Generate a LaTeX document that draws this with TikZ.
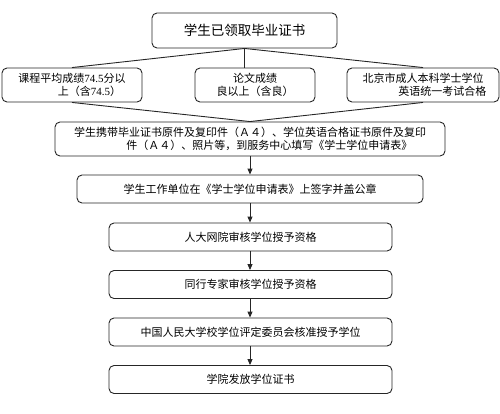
\documentclass[tikz,border=0pt]{standalone}
\usepackage{fontspec}
\setmainfont{Noto Sans CJK SC}
\newfontfamily\lat{Liberation Serif}
\usetikzlibrary{arrows.meta}
\begin{document}
\begin{tikzpicture}[x=1pt,y=-1pt,
  box/.style={draw=black!85,line width=0.9pt,rounded corners=5pt,inner sep=0pt,align=center,font=\fontsize{11}{13.5}\selectfont},
  link/.style={draw=black!85,line width=0.9pt},
  arr/.style={link,-{Triangle[length=6pt,width=5pt]}}]
\useasboundingbox (0,0) rectangle (500,413);
\node[box,minimum width=185pt,minimum height=35pt,font=\fontsize{13.5}{16}\selectfont] (top) at (244.5,30.5) {学生已领取毕业证书};
\node[box,minimum width=140pt,minimum height=34pt] (l) at (72,85) {课程平均成绩{\lat 74.5}分以\\\mbox{\hspace{3.2em}上（含{\lat 74.5}）}};
\node[box,minimum width=120pt,minimum height=34pt] (m) at (255,85) {论文成绩\\良以上（含良）};
\node[box,minimum width=152pt,minimum height=34pt] (r) at (423,85) {北京市成人本科学士学位\\\mbox{\hspace{3.5em}英语统一考试合格}};
\node[box,minimum width=390pt,minimum height=34pt] (b4) at (250,139) {学生携带毕业证书原件及复印件（Ａ４）、学位英语合格证书原件及复印\\\mbox{\hspace{3.5em}件（Ａ４）、照片等，到服务中心填写《学士学位申请表》}};
\node[box,minimum width=346pt,minimum height=28pt] (b5) at (250,189) {学生工作单位在《学士学位申请表》上签字并盖公章};
\node[box,minimum width=283pt,minimum height=28pt] (b6) at (250.5,237) {人大网院审核学位授予资格};
\node[box,minimum width=283pt,minimum height=28pt] (b7) at (250.5,284.5) {同行专家审核学位授予资格};
\node[box,minimum width=283pt,minimum height=28pt] (b8) at (250.5,332) {中国人民大学校学位评定委员会核准授予学位};
\node[box,minimum width=283pt,minimum height=28pt] (b9) at (250.5,379.5) {学院发放学位证书};
\draw[link] (top.south) -- (l.north);
\draw[link] (top.south) -- (m.north -| top.south);
\draw[link] (top.south) -- (r.north);
\draw[link] (l.south) -- (b4.north);
\draw[link] (r.south) -- (b4.north);
\draw[arr] (b4.south) -- (b5.north);
\draw[arr] (b5.south) -- (b5.south |- b6.north);
\draw[arr] (b6.south -| b5.south) -- (b5.south |- b7.north);
\draw[arr] (b7.south -| b5.south) -- (b5.south |- b8.north);
\draw[arr] (b8.south -| b5.south) -- (b5.south |- b9.north);
\end{tikzpicture}
\end{document}
